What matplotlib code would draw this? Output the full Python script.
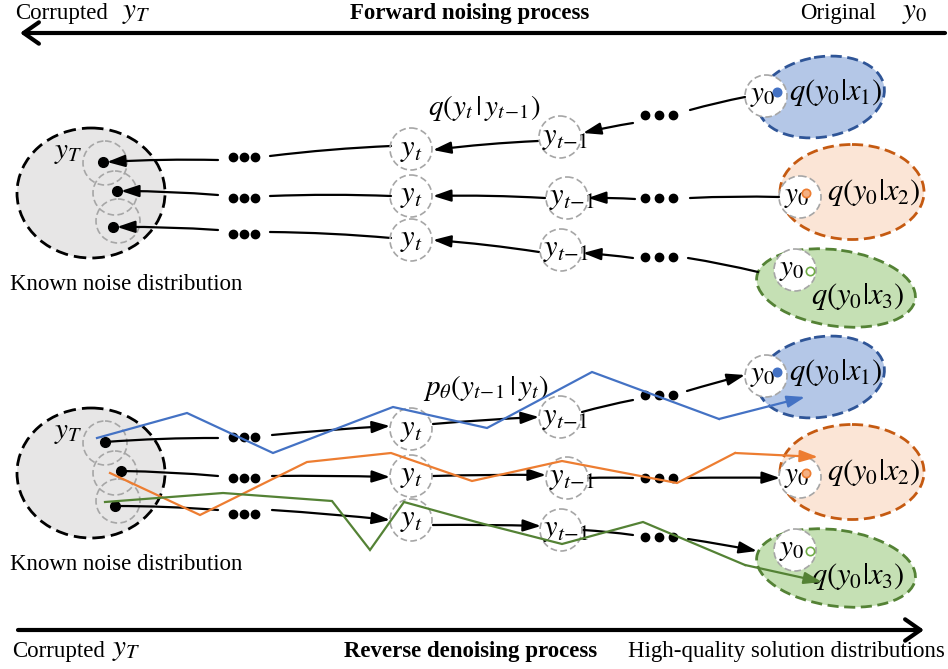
import matplotlib.pyplot as plt
from matplotlib.patches import Ellipse, Circle, FancyArrowPatch

plt.rcParams['font.family'] = ['Liberation Serif', 'DejaVu Serif']
plt.rcParams['mathtext.fontset'] = 'stix'

# ---- layout of the diagram (pixel coords, y grows downward) ----
shift = 280  # bottom panel is the top panel moved down

big_centre = (91, 193)
small_rings = [(105, 163), (115, 193), (118, 221)]
dots_top = [(103, 162), (117, 191), (113, 227)]
dots_bot = [(105, 442), (121, 471), (115, 506)]
yt_nodes = [(411, 149), (411, 196), (411, 240)]
ytm1_nodes = [(560, 137), (567, 198), (561, 250)]
y0_nodes = [(766, 96), (800, 197), (795, 270)]
ell_centres = [(821, 97), (852, 192), (836, 288)]
ell_sizes = [(128, 80), (144, 95), (160, 76)]
ell_angles = [-10, 0, 8]
ell_fill = ['#b4c7e7', '#fbe5d6', '#c5e0b4']
ell_edge = ['#2f5597', '#c55a11', '#548235']
q_labels = [r'$q(y_0|x_1)$', r'$q(y_0|x_2)$', r'$q(y_0|x_3)$']
q_pos = [(836, 92), (874, 192), (858, 297)]
mark_pos = [(777, 92), (806, 193), (810, 271)]
mark_fill = ['#4472c4', '#f4b183', 'white']
mark_edge = ['#4472c4', '#ed7d31', '#70ad47']
ellipsis_left_y = [157, 198, 234]
ellipsis_right_y = [115, 198, 257]

# forward (top) links, drawn right to left
fwd_a = [[(745, 97), (690, 110)], [(779, 197), (690, 198)], [(758, 272), (688, 258)]]
fwd_b = [[(633, 123), (583, 133)], [(635, 199), (588, 198)], [(633, 258), (583, 253)]]
fwd_c = [[(538, 141), (433, 150)], [(545, 198), (433, 196)], [(539, 252), (433, 240)]]
fwd_d = [[(391, 146), (270, 156)], [(391, 196), (270, 196)], [(391, 238), (270, 232)]]
fwd_e = [[(218, 160), (107, 162)], [(218, 195), (121, 191)], [(218, 230), (117, 227)]]

# reverse (bottom) links, drawn left to right
rev_e = [[(105, 442), (218, 438)], [(121, 471), (218, 476)], [(115, 506), (218, 510)]]
rev_d = [[(272, 435), (390, 426)], [(272, 476), (390, 477)], [(272, 510), (390, 520)]]
rev_c = [[(433, 424), (539, 417)], [(433, 476), (546, 475)], [(433, 525), (541, 526)]]
rev_b = [[(582, 412), (633, 400)], [(588, 478), (633, 478)], [(583, 530), (633, 535)]]
rev_a = [[(687, 391), (745, 375)], [(687, 478), (780, 478)], [(688, 539), (757, 551)]]

# sampled trajectories of the reverse process
blue_x = [97, 187, 273, 393, 487, 592, 719, 805]
blue_y = [438, 413, 453, 407, 428, 372, 419, 397]
orange_x = [110, 200, 307, 391, 472, 562, 677, 735, 818]
orange_y = [473, 515, 462, 453, 481, 461, 483, 453, 457]
green_x = [105, 223, 332, 370, 404, 480, 562, 643, 745, 822]
green_y = [502, 493, 501, 550, 502, 523, 544, 522, 565, 582]
path_colors = ['#4472c4', '#ed7d31', '#548235']

fig = plt.figure(figsize=(9.48, 6.69), dpi=100)
ax = fig.add_axes([0, 0, 1, 1])
ax.set_xlim(0, 948)
ax.set_ylim(669, 0)
ax.axis('off')


def link(p0, p1, head=True, rad=0.0, color='black', lw=1.6, z=3):
    style = '-|>,head_length=0.9,head_width=0.3' if head else '-'
    ax.add_patch(FancyArrowPatch(p0, p1, arrowstyle=style, mutation_scale=12,
                                 connectionstyle='arc3,rad=%s' % rad,
                                 color=color, lw=lw, shrinkA=0, shrinkB=0, zorder=z))


def ring(c, r=21, z=4, fill='none'):
    ax.add_patch(Circle(c, r, facecolor=fill, edgecolor='#a6a6a6', lw=1.2,
                        linestyle=(0, (4, 2)), zorder=z))


def panel(dy, dots):
    ax.add_patch(Ellipse((big_centre[0], big_centre[1] + dy), 148, 130, facecolor='#e7e6e6',
                         edgecolor='black', lw=2, linestyle=(0, (4.5, 2.2)), zorder=1))
    ax.text(68, 153 + dy, r'$y_T$', fontsize=21, ha='center', va='center', zorder=5)
    for c in small_rings:
        ring((c[0], c[1] + dy), 22, z=2)
    for x, y in dots:
        ax.plot(x, y, 'o', color='black', ms=7, zorder=5)
    for x, y in yt_nodes:
        ring((x, y + dy))
        ax.text(x, y + dy, r'$y_t$', fontsize=22, ha='center', va='center', zorder=5)
    for x, y in ytm1_nodes:
        ring((x, y + dy))
        ax.text(x + 5, y + dy, r'$y_{t\!-\!1}$', fontsize=22, ha='center', va='center', zorder=5)
    for i in range(3):
        (cx, cy), (w, h) = ell_centres[i], ell_sizes[i]
        ax.add_patch(Ellipse((cx, cy + dy), w, h, angle=ell_angles[i], facecolor=ell_fill[i],
                             edgecolor=ell_edge[i], lw=2, linestyle=(0, (4, 2)), zorder=1))
        x0, y0 = y0_nodes[i]
        ring((x0, y0 + dy), 21, z=2, fill='white')
        ax.text(x0 - 3, y0 + dy, r'$y_0$', fontsize=21, ha='center', va='center', zorder=5)
        mx, my = mark_pos[i]
        ax.plot(mx, my + dy, 'o', ms=6, mfc=mark_fill[i], mec=mark_edge[i], mew=1.2, zorder=5)
        qx, qy = q_pos[i]
        ax.text(qx, qy + dy, q_labels[i], fontsize=22, ha='center', va='center', zorder=5)
    for y in ellipsis_left_y:
        ax.plot([233, 244, 255], [y + dy] * 3, 'o', color='black', ms=6, zorder=5)
    for y in ellipsis_right_y:
        ax.plot([645, 659, 673], [y + dy] * 3, 'o', color='black', ms=6, zorder=5)
    ax.text(10, 285 + dy, 'Known noise distribution', fontsize=16.5, ha='left', va='center')


panel(0, dots_top)
panel(shift, dots_bot)

for seg in fwd_a + fwd_d:
    link(seg[0], seg[1], head=False, rad=0.02)
for seg in fwd_b + fwd_c + fwd_e:
    link(seg[0], seg[1], rad=0.02)
for seg in rev_e + rev_b:
    link(seg[0], seg[1], head=False, rad=-0.02)
for seg in rev_d + rev_c + rev_a:
    link(seg[0], seg[1], rad=-0.01)

ax.text(484, 108, r'$q(y_t\,|\,y_{t\!-\!1})$', fontsize=21, ha='center', va='center')
ax.text(486, 388, r'$p_\theta(y_{t\!-\!1}\,|\,y_t)$', fontsize=21, ha='center', va='center')

for xs, ys, col in zip([blue_x, orange_x, green_x], [blue_y, orange_y, green_y], path_colors):
    ax.plot(xs[:-1], ys[:-1], color=col, lw=1.6, zorder=6, solid_joinstyle='miter')
    link((xs[-2], ys[-2]), (xs[-1], ys[-1]), color=col, z=6)

# process arrows
ax.add_patch(FancyArrowPatch((945, 33), (20, 33), arrowstyle='->,head_length=0.5,head_width=0.35',
                             mutation_scale=22, color='black', lw=3, shrinkA=0, shrinkB=0))
ax.add_patch(FancyArrowPatch((18, 630), (924, 630), arrowstyle='->,head_length=0.5,head_width=0.35',
                             mutation_scale=22, color='black', lw=3, shrinkA=0, shrinkB=0))

fs = 16.5
ax.text(15, 14, 'Corrupted', fontsize=fs, ha='left', va='center')
ax.text(122, 13, r'$y_T$', fontsize=21, ha='left', va='center')
ax.text(470, 14, 'Forward noising process', fontsize=fs, fontweight='bold', ha='center', va='center')
ax.text(800, 14, 'Original', fontsize=fs, ha='left', va='center')
ax.text(902, 13, r'$y_0$', fontsize=21, ha='left', va='center')
ax.text(12, 651, 'Corrupted', fontsize=fs, ha='left', va='center')
ax.text(112, 650, r'$y_T$', fontsize=21, ha='left', va='center')
ax.text(471, 651, 'Reverse denoising process', fontsize=fs, fontweight='bold', ha='center', va='center')
ax.text(945, 651, 'High-quality solution distributions', fontsize=fs, ha='right', va='center')

fig.savefig('out.png', dpi=100)
